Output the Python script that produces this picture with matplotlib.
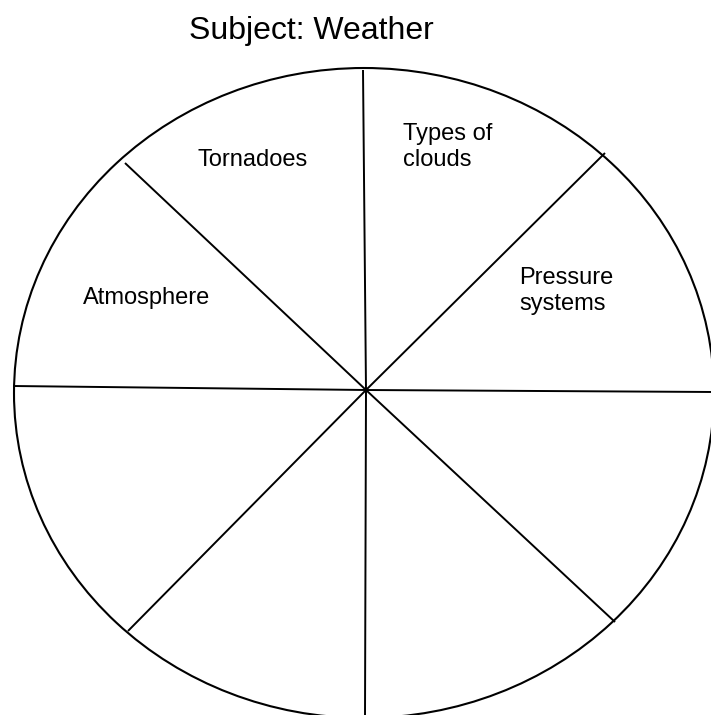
import matplotlib
matplotlib.use('Agg')
import matplotlib.pyplot as plt
from matplotlib.patches import Ellipse

plt.rcParams['font.family'] = ['Liberation Sans', 'DejaVu Sans']

# ---------- Data ----------
title = 'Subject: Weather'
segment_labels = ['Tornadoes', 'Types of\nclouds', 'Pressure\nsystems', 'Atmosphere']

# geometry in pixel coords (y down)
CENTER = (366, 390)
ELLIPSE_CENTER = (364, 393)
ELLIPSE_W, ELLIPSE_H = 700, 650
spoke_ends = [(363, 70), (365, 718), (13, 386), (714, 392),
              (125, 163), (605, 153), (128, 631), (615, 622)]
label_pos = [(198, 160), (403, 147), (519, 291), (83, 298)]

# ---------- Figure ----------
fig = plt.figure(figsize=(7.11, 7.15), dpi=100)
ax = fig.add_axes([0, 0, 1, 1])
ax.set_xlim(0, 711)
ax.set_ylim(715, 0)
ax.axis('off')

ax.add_patch(Ellipse(ELLIPSE_CENTER, ELLIPSE_W, ELLIPSE_H, fill=False,
                     edgecolor='black', linewidth=1.5))

for x, y in spoke_ends:
    ax.plot([CENTER[0], x], [CENTER[1], y], color='black', linewidth=1.4,
            solid_capstyle='butt')

for text, (x, y) in zip(segment_labels, label_pos):
    ax.text(x, y, text, fontsize=17, ha='left', va='center')

ax.text(311, 39, title, fontsize=23, ha='center', va='baseline')

fig.savefig('out.png', dpi=100)
